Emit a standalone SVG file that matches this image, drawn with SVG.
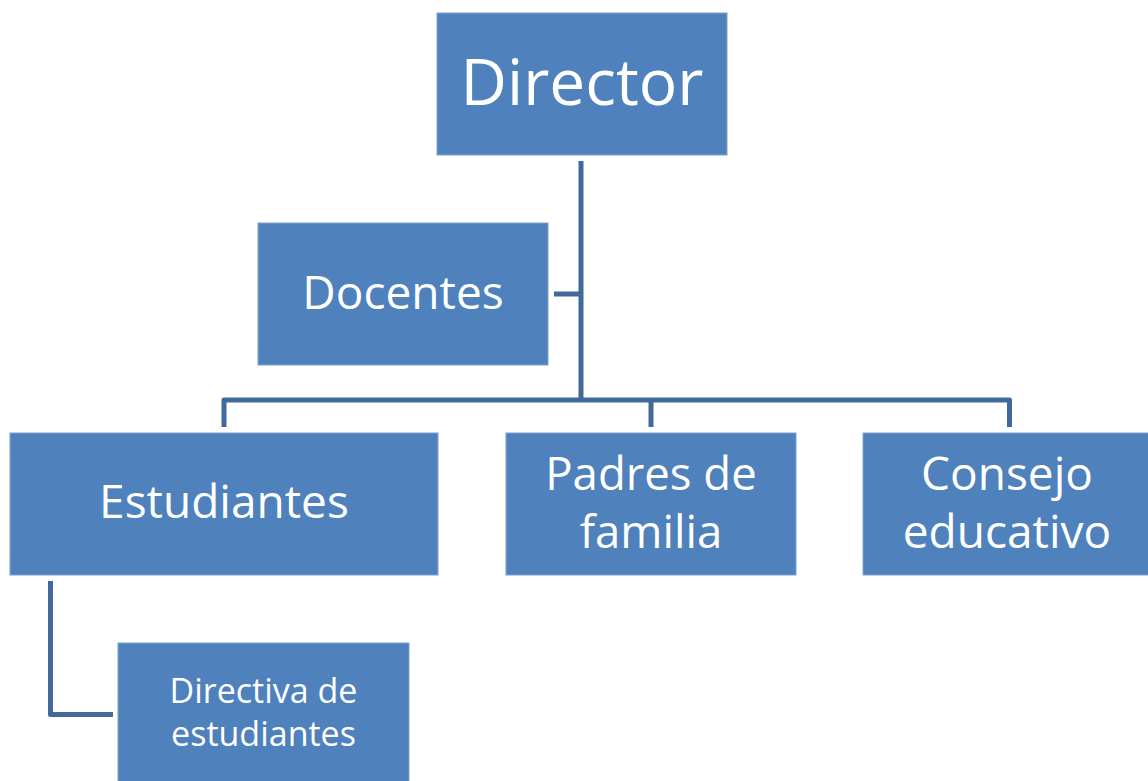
<svg xmlns="http://www.w3.org/2000/svg" width="1148" height="781" viewBox="0 0 1148 781">
<style>
.box{fill:#4F81BD;stroke:#7FA1CC;stroke-width:1}
.t{fill:#FFFFFF;font-family:"Open Sans","Liberation Sans",sans-serif;text-anchor:middle}
.c{fill:none;stroke:#41699B;stroke-width:5;stroke-linejoin:round}
</style>
<rect width="1148" height="781" fill="#FFFFFF"/>
<g id="connectors">
<path class="c" d="M581,161 V400"/>
<path class="c" d="M554,294 H581"/>
<path class="c" d="M224,427 V400 H1009.5 V427"/>
<path class="c" d="M651,400 V427"/>
<path class="c" d="M50.5,581 V714.5 H113"/>
</g>
<g id="director">
<rect class="box" x="437" y="13" width="290" height="142"/>
<text class="t" x="582" y="105" font-size="64">Director</text>
</g>
<g id="docentes">
<rect class="box" x="258" y="223" width="290" height="142"/>
<text class="t" x="403" y="309" font-size="46">Docentes</text>
</g>
<g id="estudiantes">
<rect class="box" x="10" y="433" width="428" height="142"/>
<text class="t" x="224" y="518" font-size="46">Estudiantes</text>
</g>
<g id="padres">
<rect class="box" x="506" y="433" width="290" height="142"/>
<text class="t" x="651" y="490" font-size="45.5">Padres de</text>
<text class="t" x="651" y="548" font-size="45.5">familia</text>
</g>
<g id="consejo">
<rect class="box" x="863" y="433" width="290" height="142"/>
<text class="t" x="1007" y="490" font-size="46">Consejo</text>
<text class="t" x="1007" y="548" font-size="46">educativo</text>
</g>
<g id="directiva">
<rect class="box" x="118" y="643" width="291" height="145"/>
<text class="t" x="263.5" y="703" font-size="34">Directiva de</text>
<text class="t" x="263.5" y="746" font-size="34">estudiantes</text>
</g>
</svg>
